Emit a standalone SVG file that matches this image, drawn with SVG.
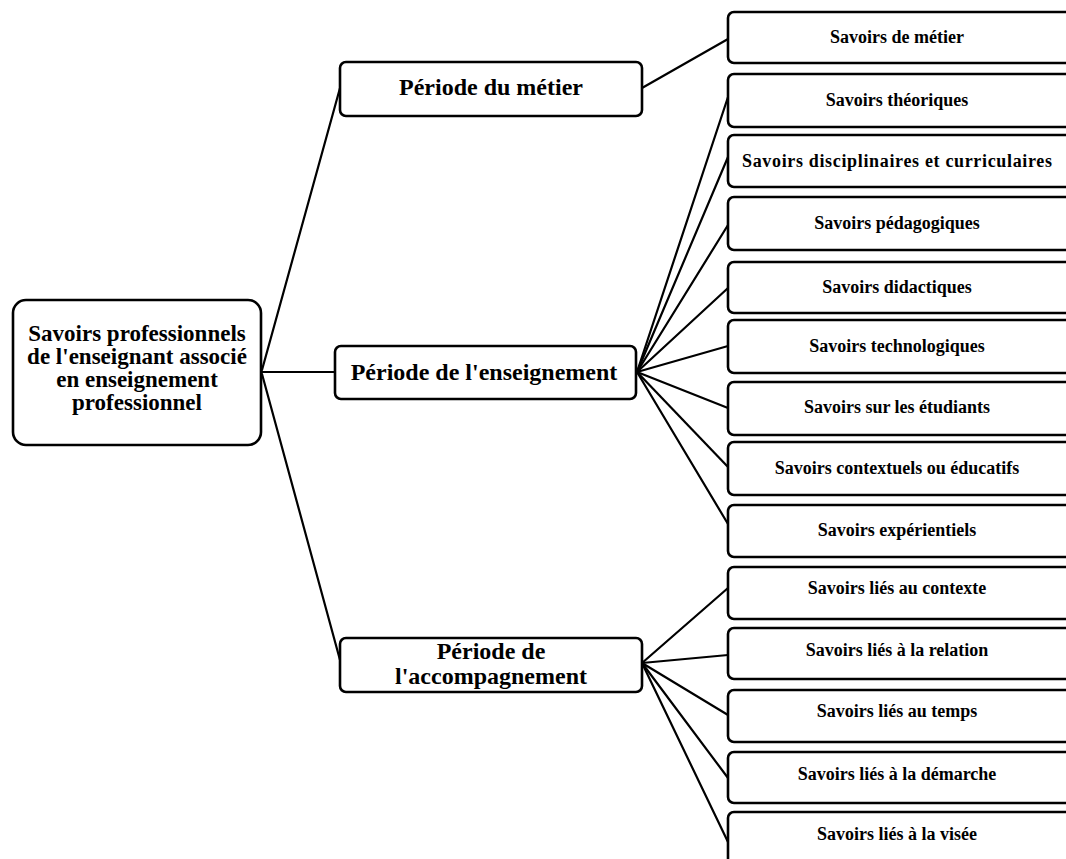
<svg xmlns="http://www.w3.org/2000/svg" width="1066" height="859" viewBox="0 0 1066 859">
  <style>
    .box { fill: #fff; stroke: #000; stroke-width: 2.6; }
    .edge { fill: none; stroke: #000; stroke-width: 2.2; stroke-linecap: round; }
    .t { font-family: "Liberation Serif", "Times New Roman", serif; font-weight: bold; fill: #000; text-anchor: middle; }
    .root { font-size: 23px; }
    .mid { font-size: 24px; }
    .leaf { font-size: 18px; }
  </style>
  <rect width="1066" height="859" fill="#fff"/>

  <!-- connectors -->
  <g id="connectors" class="edge">
    <line x1="262" y1="370" x2="340" y2="88"/>
    <line x1="262" y1="372" x2="336" y2="372"/>
    <line x1="262" y1="374" x2="340" y2="660"/>
    <line x1="642" y1="88" x2="728" y2="39"/>
    <!-- teaching period fan -->
    <line x1="637" y1="372" x2="728" y2="97"/>
    <line x1="637" y1="372" x2="728" y2="157"/>
    <line x1="637" y1="372" x2="728" y2="225"/>
    <line x1="637" y1="372" x2="728" y2="288"/>
    <line x1="637" y1="372" x2="728" y2="346"/>
    <line x1="637" y1="372" x2="728" y2="408"/>
    <line x1="637" y1="372" x2="728" y2="467"/>
    <line x1="637" y1="372" x2="728" y2="524"/>
    <!-- mentoring period fan -->
    <line x1="642" y1="663" x2="728" y2="588"/>
    <line x1="642" y1="663" x2="728" y2="655"/>
    <line x1="642" y1="663" x2="728" y2="715"/>
    <line x1="642" y1="663" x2="728" y2="778"/>
    <line x1="642" y1="663" x2="728" y2="842"/>
  </g>

  <g id="root">
    <rect class="box" x="13" y="300" width="248" height="145" rx="13"/>
    <text class="t root" x="137" y="341">Savoirs professionnels</text>
    <text class="t root" x="137" y="364">de l'enseignant associé</text>
    <text class="t root" x="137" y="387">en enseignement</text>
    <text class="t root" x="137" y="410">professionnel</text>
  </g>

  <g id="periode-metier">
    <rect class="box" x="340" y="62" width="302" height="54" rx="6"/>
    <text class="t mid" x="491" y="95">Période du métier</text>
  </g>
  <g id="periode-enseignement">
    <rect class="box" x="335" y="346" width="301" height="53" rx="6"/>
    <text class="t mid" x="484" y="380">Période de l'enseignement</text>
  </g>
  <g id="periode-accompagnement">
    <rect class="box" x="340" y="638" width="302" height="54" rx="6"/>
    <text class="t mid" x="491" y="659">Période de</text>
    <text class="t mid" x="491" y="684">l'accompagnement</text>
  </g>

  <g id="savoirs-metier">
    <rect class="box" x="728" y="12" width="350" height="51" rx="6"/>
    <text class="t leaf" x="897" y="43">Savoirs de métier</text>
  </g>
  <g id="savoirs-theoriques">
    <rect class="box" x="728" y="74" width="350" height="53" rx="6"/>
    <text class="t leaf" x="897" y="106">Savoirs théoriques</text>
  </g>
  <g id="savoirs-disciplinaires">
    <rect class="box" x="728" y="135" width="350" height="52" rx="6"/>
    <text class="t leaf" x="897" y="167" textLength="310" lengthAdjust="spacing">Savoirs disciplinaires et curriculaires</text>
  </g>
  <g id="savoirs-pedagogiques">
    <rect class="box" x="728" y="197" width="350" height="53" rx="6"/>
    <text class="t leaf" x="897" y="229">Savoirs pédagogiques</text>
  </g>
  <g id="savoirs-didactiques">
    <rect class="box" x="728" y="262" width="350" height="51" rx="6"/>
    <text class="t leaf" x="897" y="293">Savoirs didactiques</text>
  </g>
  <g id="savoirs-technologiques">
    <rect class="box" x="728" y="320" width="350" height="53" rx="6"/>
    <text class="t leaf" x="897" y="352">Savoirs technologiques</text>
  </g>
  <g id="savoirs-etudiants">
    <rect class="box" x="728" y="382" width="350" height="53" rx="6"/>
    <text class="t leaf" x="897" y="413">Savoirs sur les étudiants</text>
  </g>
  <g id="savoirs-contextuels">
    <rect class="box" x="728" y="442" width="350" height="53" rx="6"/>
    <text class="t leaf" x="897" y="474">Savoirs contextuels ou éducatifs</text>
  </g>
  <g id="savoirs-experientiels">
    <rect class="box" x="728" y="505" width="350" height="52" rx="6"/>
    <text class="t leaf" x="897" y="536">Savoirs expérientiels</text>
  </g>

  <g id="lies-contexte">
    <rect class="box" x="728" y="567" width="350" height="52" rx="6"/>
    <text class="t leaf" x="897" y="594">Savoirs liés au contexte</text>
  </g>
  <g id="lies-relation">
    <rect class="box" x="728" y="628" width="350" height="51" rx="6"/>
    <text class="t leaf" x="897" y="656">Savoirs liés à la relation</text>
  </g>
  <g id="lies-temps">
    <rect class="box" x="728" y="690" width="350" height="52" rx="6"/>
    <text class="t leaf" x="897" y="717">Savoirs liés au temps</text>
  </g>
  <g id="lies-demarche">
    <rect class="box" x="728" y="752" width="350" height="51" rx="6"/>
    <text class="t leaf" x="897" y="780">Savoirs liés à la démarche</text>
  </g>
  <g id="lies-visee">
    <rect class="box" x="728" y="812" width="350" height="60" rx="6"/>
    <text class="t leaf" x="897" y="840">Savoirs liés à la visée</text>
  </g>
</svg>
